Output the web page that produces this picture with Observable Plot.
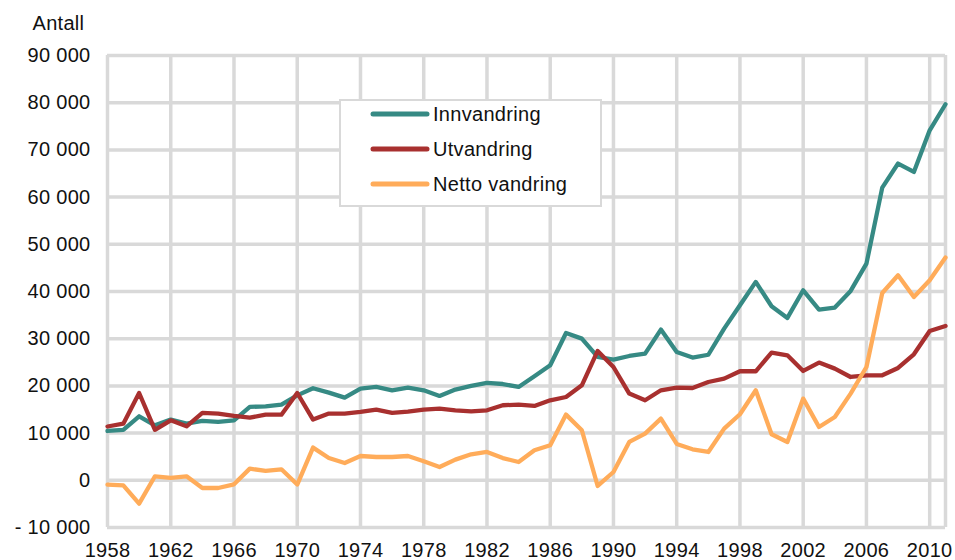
<!DOCTYPE html>
<html>
<head>
<meta charset="utf-8">
<script src="https://cdn.jsdelivr.net/npm/d3@7"></script>
<script src="https://cdn.jsdelivr.net/npm/@observablehq/plot@0.6"></script>
<style>
  html, body { margin: 0; padding: 0; background: #fff; }
  #wrap { position: relative; width: 955px; height: 560px; font-family: "Liberation Sans", Arial, sans-serif; }
  #wrap svg text { letter-spacing: 0.3px; }
  #legend { position: absolute; left: 339px; top: 99px; width: 259px; height: 104px; border: 2px solid #d9d9d9; background: #fff; }
  .item { position: absolute; left: 0; height: 24px; display: flex; align-items: center; font-size: 20px; letter-spacing: 0.3px; color: #111; }
  .item svg { margin-left: 29px; margin-right: 3px; }
</style>
</head>
<body>
<div id="wrap"></div>
<script>
const years = d3.range(1958, 2012);
const innvandring = [10450, 10700, 13560, 11650, 12860, 12000, 12570, 12360, 12700, 15540,
  15680, 16030, 18000, 19500, 18580, 17520, 19430, 19780, 19070, 19640,
  19070, 17870, 19220, 19990, 20620, 20400, 19780, 22040, 24370, 31210,
  30020, 26130, 25570, 26340, 26850, 31930, 27190, 26000, 26600, 32140,
  37080, 42030, 36870, 34400, 40260, 36170, 36590, 40120, 45910, 62020,
  67110, 65340, 74160, 79670];
const utvandring = [11400, 12000, 18500, 10700, 12700, 11440, 14270, 14130, 13630, 13280,
  13900, 13900, 18500, 12860, 14130, 14130, 14480, 14980, 14270, 14550,
  14980, 15190, 14830, 14620, 14830, 15900, 16030, 15750, 16950, 17650,
  20130, 27400, 24010, 18370, 16950, 19070, 19640, 19550, 20830, 21540,
  23100, 23100, 27060, 26490, 23170, 24940, 23660, 21890, 22250, 22250,
  23800, 26700, 31640, 32700];
const netto = [-900, -1060, -4940, 850, 500, 850, -1630, -1630, -850, 2470,
  1980, 2330, -900, 6930, 4730, 3670, 5150, 4940, 4940, 5150,
  4030, 2820, 4380, 5510, 6000, 4700, 3880, 6360, 7420, 13920,
  10600, -1200, 1760, 8120, 9890, 13070, 7700, 6570, 6000, 10950,
  13990, 19070, 9750, 8120, 17310, 11300, 13420, 18370, 24010, 39690,
  43440, 38840, 42380, 47190];
const seriesNames = ["Innvandring", "Utvandring", "Netto vandring"];
const seriesColors = ["#368a84", "#a8302f", "#ffac5a"];
const xTicks = d3.range(1958, 2011, 4);
const xGrid = [...xTicks, 2011];
const yTicks = d3.range(-10000, 90001, 10000);
const yLabel = "Antall";

const rows = [];
[innvandring, utvandring, netto].forEach((vals, s) => {
  vals.forEach((v, i) => rows.push({ year: years[i], value: v, series: seriesNames[s] }));
});

const fmt = d => (d < 0 ? "- " : "") + d3.format(",")(Math.abs(d)).replace(/,/g, " ");

const chart = Plot.plot({
  width: 955,
  height: 560,
  marginLeft: 107,
  marginRight: 10,
  marginTop: 55,
  marginBottom: 33,
  style: { fontFamily: "'Liberation Sans', Arial, sans-serif", fontSize: "20px", color: "#111", background: "#fff" },
  x: { domain: [1958, 2011], label: null },
  y: { domain: [-10000, 90000], label: null },
  color: { domain: seriesNames, range: seriesColors },
  marks: [
    Plot.ruleX(xGrid, { stroke: "#d9d9d9", strokeWidth: 3.5 }),
    Plot.ruleY(yTicks, { stroke: "#d9d9d9", strokeWidth: 3.5 }),
    Plot.axisX({ ticks: xTicks, tickFormat: d => String(d), tickSize: 0, tickPadding: 15, fontSize: 20 }),
    Plot.axisY({ ticks: yTicks, tickFormat: fmt, tickSize: 0, tickPadding: 17, fontSize: 20 }),
    Plot.line(rows, { x: "year", y: "value", z: "series", stroke: "series", strokeWidth: 4.3, strokeLinejoin: "round" }),
    Plot.text([yLabel], { frameAnchor: "top-left", text: d => d, dx: -75, dy: -40, textAnchor: "start", fontSize: 20 })
  ]
});

const wrap = document.getElementById("wrap");
wrap.appendChild(chart);

const legend = document.createElement("div");
legend.id = "legend";
seriesNames.forEach((name, i) => {
  const item = document.createElement("div");
  item.className = "item";
  item.style.top = (1 + i * 35) + "px";
  item.innerHTML = `<svg width="60" height="8"><line x1="3" y1="4" x2="57" y2="4" stroke="${seriesColors[i]}" stroke-width="5" stroke-linecap="round"/></svg><span>${name}</span>`;
  legend.appendChild(item);
});
wrap.appendChild(legend);
</script>
</body>
</html>
